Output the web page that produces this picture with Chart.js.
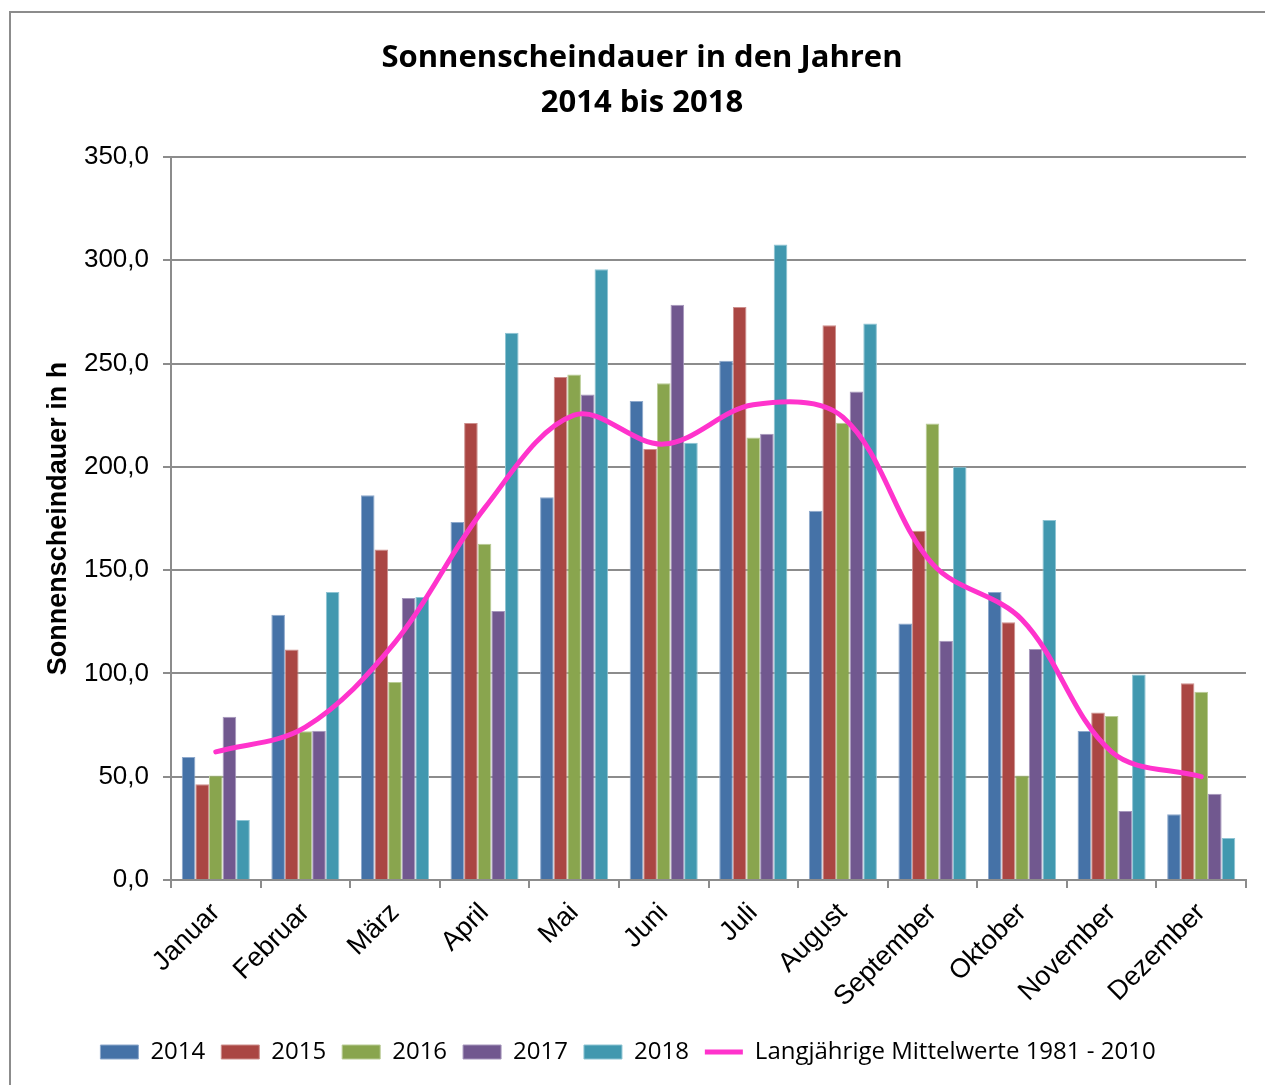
<!DOCTYPE html>
<html>
<head>
<meta charset="utf-8">
<script src="https://cdn.jsdelivr.net/npm/chart.js@4/dist/chart.umd.min.js"></script>
<style>
  html, body { margin: 0; padding: 0; background: #fff; }
  #wrap { position: relative; width: 1265px; height: 1085px; }
</style>
</head>
<body>
<div id="wrap"><canvas id="c" width="1265" height="1085"></canvas></div>
<script>
const categories = ['Januar','Februar','März','April','Mai','Juni','Juli','August','September','Oktober','November','Dezember'];
const y2014 = [59.5,128.4,186.2,173.3,185.3,231.8,251.3,178.7,124.2,139.4,72.1,31.8];
const y2015 = [46.3,111.6,160.0,221.2,243.5,208.6,277.3,268.5,169.0,124.7,81.1,95.2];
const y2016 = [50.6,72.0,95.8,162.7,244.7,240.5,214.2,221.3,221.0,50.6,79.4,91.1];
const y2017 = [79.0,72.3,136.5,130.2,235.0,278.4,216.0,236.5,115.8,111.8,33.4,41.8];
const y2018 = [29.0,139.4,137.0,264.9,295.6,211.6,307.6,269.4,200.0,174.2,99.5,20.3];
const mittelwerte = [62,74,115,180,225,211,230,224,153,126,62,50];
const seriesNames = ['2014','2015','2016','2017','2018'];
const lineName = 'Langjährige Mittelwerte 1981 - 2010';
const titleLines = ['Sonnenscheindauer in den Jahren','2014 bis 2018'];
const yTitle = 'Sonnenscheindauer in h';

const colors = ['#4572A7','#AA4643','#89A54E','#71588F','#4198AF'];
const borderColors = ['#8EA9CC','#CD8F8D','#B9CC95','#A697BC','#8EC4D3'];
const barSeries = [y2014,y2015,y2016,y2017,y2018];

const datasets = barSeries.map((d,i) => ({
  type: 'bar',
  label: seriesNames[i],
  data: d,
  backgroundColor: colors[i],
  borderColor: borderColors[i],
  borderWidth: 1,
  pointStyle: 'rect',
  categoryPercentage: 0.76,
  barPercentage: 1.0,
  order: 2
}));
datasets.push({
  type: 'line',
  label: lineName,
  data: mittelwerte,
  borderColor: '#FF33CC',
  backgroundColor: '#FF33CC',
  borderWidth: 5,
  borderCapStyle: 'round',
  pointRadius: 0,
  pointStyle: 'line',
  tension: 0.35,
  fill: false,
  order: 1
});

const framePlugin = {
  id: 'frame',
  afterLayout(chart) {
    const t = chart.titleBlock;
    if (t) { t.left += 14; t.right += 14; }
  },
  afterDraw(chart) {
    const ctx = chart.ctx;
    ctx.save();
    ctx.strokeStyle = '#8c8c8c';
    ctx.lineWidth = 2;
    ctx.beginPath();
    ctx.moveTo(10, 1085);
    ctx.lineTo(10, 12);
    ctx.lineTo(1265, 12);
    ctx.stroke();
    ctx.restore();
  }
};

new Chart(document.getElementById('c'), {
  data: { labels: categories, datasets },
  plugins: [framePlugin],
  options: {
    responsive: false,
    animation: false,
    layout: { padding: { left: 10, right: 19, top: 0, bottom: 11 } },
    plugins: {
      title: {
        display: true,
        text: titleLines,
        color: '#000',
        font: { family: 'Open Sans', size: 31, weight: 'bold', lineHeight: 1.45 },
        padding: { top: 36, bottom: 31 }
      },
      legend: {
        position: 'bottom',
        labels: {
          usePointStyle: true,
          pointStyleWidth: 38,
          boxHeight: 14,
          padding: 16,
          color: '#000',
          font: { family: 'Open Sans', size: 24 },
          sort: (a, b) => a.datasetIndex - b.datasetIndex
        }
      },
      tooltip: { enabled: false }
    },
    scales: {
      x: {
        grid: { display: true, drawOnChartArea: false, drawTicks: true, tickLength: 8, color: '#8c8c8c', lineWidth: 2, offset: true },
        border: { color: '#8c8c8c', width: 2 },
        ticks: { color: '#000', font: { family: 'Liberation Sans', size: 27 }, minRotation: 45, maxRotation: 45, padding: 9 },
        afterFit(scale) { scale.height = 144; }
      },
      y: {
        min: 0, max: 350,
        ticks: {
          stepSize: 50,
          color: '#000',
          padding: 14,
          font: { family: 'Liberation Sans', size: 26 },
          callback: v => v.toFixed(1).replace('.', ',')
        },
        grid: { color: '#8c8c8c', lineWidth: 2, tickLength: 8 },
        border: { color: '#8c8c8c', width: 2 },
        title: {
          display: true,
          text: yTitle,
          color: '#000',
          font: { family: 'Liberation Sans', size: 27, weight: 'bold' },
          padding: { top: 32, bottom: 0 }
        },
        afterFit(scale) { scale.width = 161; }
      }
    }
  }
});
</script>
</body>
</html>
